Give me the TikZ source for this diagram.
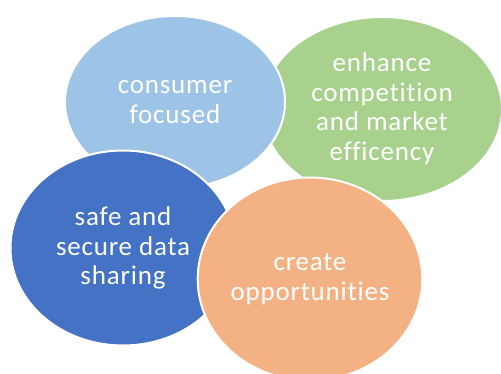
\documentclass[tikz,border=0pt]{standalone}
\usepackage{fontspec}
\setmainfont{Carlito}[Ligatures=NoCommon, LetterSpace=3]
\usetikzlibrary{shapes.geometric}

\definecolor{skyblue}{HTML}{9DC3E6}
\definecolor{leafgreen}{HTML}{A9D18E}
\definecolor{deepblue}{HTML}{4472C4}
\definecolor{peach}{HTML}{F4B183}

\tikzset{
  bubble/.style={ellipse, draw=white, line width=2pt, text=white, align=center,
    inner sep=0pt, font=\fontsize{27}{29.5}\selectfont}
}

\begin{document}
\begin{tikzpicture}[x=1pt,y=-1pt]
  \useasboundingbox (0,0) rectangle (501,374);
  \clip (0,0) rectangle (501,374);

  % back to front
  \node [bubble, fill=leafgreen, minimum width=240pt, minimum height=184pt](market) at (382,109) {enhance\\competition\\and market\\efficency};
  \node [bubble, fill=skyblue, minimum width=220pt, minimum height=172pt](consumer) at (175,102) {consumer\\focused};
  \node [bubble, fill=deepblue, minimum width=225pt, minimum height=195pt](data) at (123,248) {safe and\\secure data\\sharing};
  \node [bubble, fill=peach, minimum width=219pt, minimum height=203pt](create) at (310,279) {create\\opportunities};
\end{tikzpicture}
\end{document}
